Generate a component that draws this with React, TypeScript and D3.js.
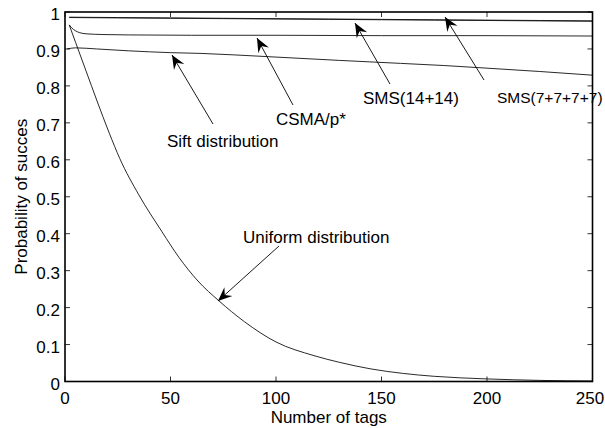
import React from "react";
import * as d3 from "d3";

const xTicks = [0, 50, 100, 150, 200, 250];
const yTicks = [0, 0.1, 0.2, 0.3, 0.4, 0.5, 0.6, 0.7, 0.8, 0.9, 1];

const smsFourN = [2, 25, 50, 75, 100, 125, 150, 175, 200, 225, 250];
const smsFourV = [0.986, 0.985, 0.984, 0.983, 0.982, 0.981, 0.980, 0.979, 0.978, 0.977, 0.976];

const smsTwoN = [2, 25, 50, 75, 100, 125, 150, 175, 200, 225, 250];
const smsTwoV = [0.985, 0.984, 0.983, 0.982, 0.981, 0.980, 0.979, 0.978, 0.977, 0.976, 0.975];

const csmaN = [2, 3, 5, 7, 10, 18, 30, 60, 100, 150, 200, 250];
const csmaV = [0.965, 0.958, 0.949, 0.944, 0.941, 0.939, 0.938, 0.937, 0.937, 0.936, 0.936, 0.935];

const siftN = [1, 5, 15, 30, 50, 64, 80, 100, 130, 159, 180, 200, 225, 250];
const siftV = [0.9, 0.903, 0.9, 0.895, 0.89, 0.888, 0.884, 0.878, 0.869, 0.861, 0.855, 0.848, 0.839, 0.829];

const uniN = [2, 5, 10, 15, 21, 26, 35, 46, 54, 63, 73, 85, 100, 118, 130, 145, 160, 175, 200, 225, 250];
const uniV = [0.965, 0.918, 0.84, 0.762, 0.672, 0.603, 0.505, 0.405, 0.336, 0.272, 0.218, 0.162, 0.107, 0.07, 0.052, 0.034, 0.022, 0.014, 0.007, 0.003, 0.0015];

const labels = ["SMS(7+7+7+7)", "SMS(14+14)", "CSMA/p*", "Sift distribution", "Uniform distribution"];

const W = 605;
const H = 428;
const FONT = "Arial, 'Liberation Sans', Helvetica, sans-serif";
const FS = 17;

export default function App() {
  const x = d3.scaleLinear().domain([0, 250]).range([65, 592.5]);
  const y = d3.scaleLinear().domain([0, 1]).range([381.5, 12]);
  const line = d3
    .line<[number, number]>()
    .x((d) => x(d[0]))
    .y((d) => y(d[1]))
    .curve(d3.curveMonotoneX);
  const zip = (a: number[], b: number[]) => a.map((v, i) => [v, b[i]] as [number, number]);

  const series = [
    zip(smsFourN, smsFourV),
    zip(smsTwoN, smsTwoV),
    zip(csmaN, csmaV),
    zip(siftN, siftV),
    zip(uniN, uniV),
  ];

  const ann = [
    { t: labels[0], tx: 497, ty: 103, x1: 484, y1: 80, x2: 445, y2: 17, fs: 15.5 },
    { t: labels[1], tx: 363, ty: 104, x1: 390, y1: 84, x2: 355, y2: 23, fs: FS },
    { t: labels[2], tx: 276, ty: 125, x1: 293, y1: 105, x2: 257, y2: 38, fs: FS },
    { t: labels[3], tx: 167, ty: 147, x1: 213, y1: 124, x2: 172, y2: 55, fs: FS },
    { t: labels[4], tx: 243, ty: 243, x1: 279, y1: 246, x2: 218, y2: 301, fs: FS },
  ];

  const head = (a: { x1: number; y1: number; x2: number; y2: number }) => {
    const dx = a.x2 - a.x1;
    const dy = a.y2 - a.y1;
    const len = Math.sqrt(dx * dx + dy * dy);
    const ux = dx / len;
    const uy = dy / len;
    const L = 14;
    const hw = 6;
    const bx = a.x2 - ux * L;
    const by = a.y2 - uy * L;
    const nx = a.x2 - ux * L * 0.65;
    const ny = a.y2 - uy * L * 0.65;
    return `M${a.x2},${a.y2}L${bx - uy * hw},${by + ux * hw}L${nx},${ny}L${bx + uy * hw},${by - ux * hw}Z`;
  };

  const x0 = x(0), x1 = x(250), y0 = y(0), y1 = y(1);

  return (
    <svg width={W} height={H} style={{ position: "absolute", left: 0, top: 0, background: "#fff" }} fontFamily={FONT}>
      <rect x={0} y={0} width={W} height={H} fill="#fff" />
      {series.map((s, i) => (
        <path key={i} d={line(s) || ""} fill="none" stroke="#111" strokeWidth={0.9} />
      ))}
      <rect x={x0} y={y1} width={x1 - x0} height={y0 - y1} fill="none" stroke="#000" strokeWidth={1.6} />
      {xTicks.map((t) => (
        <g key={"x" + t}>
          <line x1={x(t)} x2={x(t)} y1={y0} y2={y0 - 5} stroke="#000" strokeWidth={0.8} />
          <line x1={x(t)} x2={x(t)} y1={y1} y2={y1 + 5} stroke="#000" strokeWidth={0.8} />
          <text x={Math.min(x(t), 590)} y={404} fontSize={FS} textAnchor="middle">{t}</text>
        </g>
      ))}
      {yTicks.map((t) => (
        <g key={"y" + t}>
          <line x1={x0} x2={x0 + 5} y1={y(t)} y2={y(t)} stroke="#000" strokeWidth={0.8} />
          <line x1={x1} x2={x1 - 5} y1={y(t)} y2={y(t)} stroke="#000" strokeWidth={0.8} />
          <text x={60} y={y(t) + 8} fontSize={FS} textAnchor="end">{String(t)}</text>
        </g>
      ))}
      <text x={(x0 + x1) / 2} y={423} fontSize={FS} textAnchor="middle">Number of tags</text>
      <text transform={`translate(27,${(y0 + y1) / 2}) rotate(-90)`} fontSize={FS} textAnchor="middle">Probability of succes</text>
      {ann.map((a, i) => (
        <g key={"a" + i}>
          <line x1={a.x1} y1={a.y1} x2={a.x2} y2={a.y2} stroke="#000" strokeWidth={0.9} />
          <path d={head(a)} fill="#000" />
          <text x={a.tx} y={a.ty} fontSize={a.fs}>{a.t}</text>
        </g>
      ))}
    </svg>
  );
}
